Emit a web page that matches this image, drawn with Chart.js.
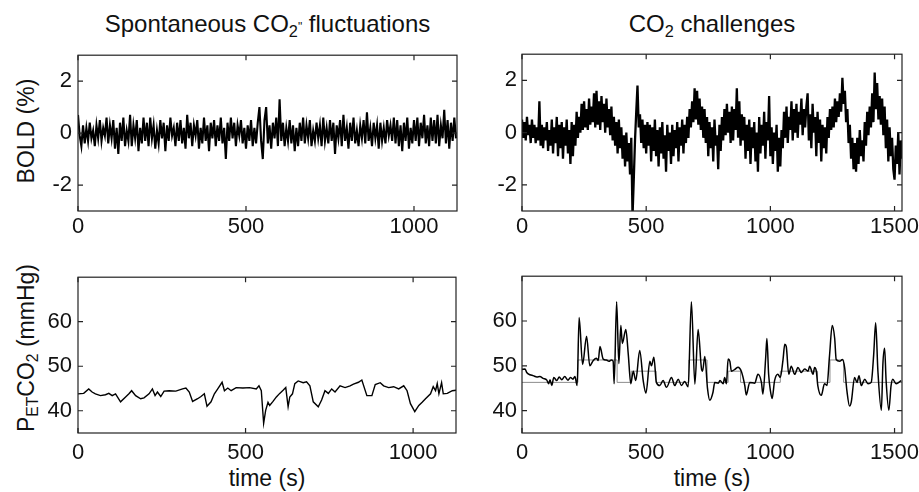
<!DOCTYPE html>
<html>
<head>
<meta charset="utf-8">
<script src="https://cdn.jsdelivr.net/npm/chart.js@4/dist/chart.umd.min.js"></script>
<style>
  html, body { margin: 0; padding: 0; background: #fff; }
  body { position: relative; width: 919px; height: 492px; overflow: hidden; font-family: "Liberation Sans", Arial, Helvetica, sans-serif; color: #111; }
  canvas { position: absolute; }
  .txt { position: absolute; font-size: 24px; line-height: 24px; white-space: nowrap; text-align: center; }
  .txt sub { font-size: 0.68em; vertical-align: -0.28em; line-height: 0; }
  .mark { font-size: 0.5em; vertical-align: 0.1em; }
  .ylab { font-size: 23px; transform: rotate(-90deg); transform-origin: center center; }
</style>
</head>
<body>
<div class="txt" style="left:78px; width:379px; top:12px">Spontaneous CO<sub>2</sub><span class="mark">"</span> fluctuations</div>
<div class="txt" style="left:522px; width:380px; top:12px">CO<sub>2</sub> challenges</div>
<div class="txt ylab" style="left:-74px; width:200px; top:119px">BOLD (%)</div>
<div class="txt ylab" style="left:-74px; width:200px; top:336px">P<sub>ET</sub>CO<sub>2</sub> (mmHg)</div>
<div class="txt" style="left:78px; width:378px; top:466px; font-size:23px">time (s)</div>
<div class="txt" style="left:522px; width:380px; top:466px; font-size:23px">time (s)</div>

<canvas id="tl" width="440" height="210" style="left:30px; top:36px"></canvas>
<canvas id="tr" width="465" height="210" style="left:475px; top:36px"></canvas>
<canvas id="bl" width="440" height="210" style="left:30px; top:258px"></canvas>
<canvas id="br" width="465" height="210" style="left:475px; top:258px"></canvas>

<script>
// tick labels
const boldTicks = [-2, 0, 2]
const co2Ticks = [40, 50, 60]
const timeTicksSpont = [0, 500, 1000]
const timeTicksChall = [0, 500, 1000, 1500]

// BOLD (%) sampled every 5 s, spontaneous run
const boldSpontStep = 5
const boldSpont = [
  0.7, -0.1, -0.5, 0.3, -0.4, 0.2, -0.3, 0.4, -0.2, 0.1,
  -0.5, 0.3, -0.2, 0.5, -0.3, 0.2, -0.1, 0.6, -0.4, 0.3,
  -0.2, 0.5, -0.6, 0.2, -0.8, 0.4, -0.3, 0.6, -0.5, 0.1,
  -0.3, 0.7, -0.5, 0.3, -0.2, 0.5, -0.7, 0.2, -0.4, 0.6,
  -0.3, 0.4, -0.5, 0.6, -0.2, 0.3, -0.6, 0.1, -0.4, 0.5,
  -0.2, 0.4, -0.7, 0.3, -0.3, 0.6, -0.1, 0.2, -0.5, 0.4,
  -0.3, 0.5, -0.4, 0.2, -0.6, 0.7, -0.2, 0.4, -0.5, 0.3,
  -0.1, 0.5, -0.6, 0.2, -0.4, 0.6, -0.3, 0.3, -0.7, 0.4,
  -0.2, 0.5, -0.5, 0.3, -0.3, 0.6, -0.4, 0.2, -1.0, 0.4,
  -0.3, 0.6, -0.2, 0.4, -0.5, 0.3, -0.1, 0.5, -0.4, 0.2,
  -0.6, 0.3, -0.3, 0.5, -0.5, 0.2, -0.4, 0.4, 1.0, -0.3,
  -1.0, 0.5, 1.0, -0.4, 0.3, -0.6, 0.4, -0.2, 0.6, -0.5,
  1.3, -0.3, 0.4, -0.5, 0.2, -0.3, 0.5, -0.4, 0.3, -0.7,
  0.2, -0.5, 0.4, -0.3, 0.6, -0.4, 0.3, -0.2, 0.5, -0.5,
  0.1, -0.3, 0.4, -0.2, 0.3, -0.5, 0.6, -0.3, 0.2, -0.4,
  0.5, -0.3, 0.4, -0.8, 0.3, -0.2, 0.5, -0.5, 0.7, -0.3,
  0.2, -0.6, 0.4, -0.3, 0.6, -0.4, 0.1, -0.5, 0.3, -0.2,
  0.5, -0.4, 0.8, -0.3, 0.2, -0.5, 0.4, -0.2, 0.3, -0.6,
  0.4, -0.3, 0.2, -0.4, 0.5, -0.1, 0.3, -0.3, 0.6, -0.4,
  0.5, -0.5, 0.3, -0.7, 0.4, -0.3, 0.6, -0.6, 0.2, -0.4,
  0.5, -0.3, 0.6, -0.5, 0.4, -0.2, 0.7, -0.4, 0.3, -0.5,
  0.6, -0.3, 0.5, -0.4, 0.7, -0.5, 0.3, -0.2, 0.9, -0.4,
  0.5, -0.6, 0.4, -0.3, 0.6, -0.2
]

// BOLD (%) sampled every 5 s, CO2 challenge run
const boldChallStep = 5
const boldChall = [
  0.5, -0.2, 0.4, -0.3, 0.6, -0.1, 0.3, -0.4, 0.5, -0.2,
  0.3, -0.4, 0.2, -0.3, 1.2, -0.5, 0.3, -0.6, 0.2, -0.3,
  0.4, -0.7, 0.1, -0.5, 0.5, -0.8, 0.2, -0.4, 0.6, -0.9,
  0.3, -0.6, 0.4, -1.0, 0.2, -0.5, 0.5, -0.8, 0.1, -1.2,
  0.4, -0.9, 0.3, -0.5, 0.8, -0.2, 0.6, 0.0, 1.1, 0.1,
  1.2, 0.2, 0.9, 0.1, 1.3, 0.3, 1.0, 0.4, 1.5, 0.2,
  1.6, 0.3, 1.2, 0.1, 1.4, 0.4, 1.1, 0.0, 1.3, 0.2,
  0.9, -0.1, 1.0, -0.3, 0.6, -0.5, 0.4, -0.8, 0.5, -0.6,
  0.2, -1.0, -0.1, -1.3, 0.0, -1.1, -0.4, -1.6, -0.2, -3.2,
  -1.8, -0.3, 0.8, 1.8, 0.2, 0.7, -0.4, 0.5, -0.6, 0.3,
  -0.8, 0.4, -0.5, 0.3, -1.1, 0.2, -0.7, 0.5, -0.9, 0.1,
  -1.3, 0.2, -0.8, 0.4, -1.0, -0.1, -1.5, 0.3, -0.7, 0.0,
  -1.2, 0.3, -0.9, 0.1, -0.6, 0.4, -1.1, 0.2, -0.5, 0.5,
  -0.8, 0.3, -0.4, 0.6, -0.2, 0.9, 0.2, 1.2, 0.4, 1.7,
  0.5, 1.6, 0.3, 1.3, 0.1, 1.0, -0.2, 0.9, -0.4, 0.6,
  -0.9, 0.4, -0.6, 0.2, -1.1, 0.5, -0.5, -0.1, -1.4, 0.3,
  -0.7, 0.6, -0.3, 0.9, -0.1, 1.1, 0.0, 0.8, -0.4, 1.0,
  -0.3, 0.9, 0.1, 1.7, -0.2, 1.2, -0.5, 0.7, -0.3, 0.6,
  -1.0, 0.3, -0.7, 0.5, -1.2, 0.2, -0.6, 0.4, -1.1, 0.0,
  -1.5, 0.6, -0.8, 0.3, -0.5, 0.8, -1.0, 0.4, -0.3, 1.4,
  -0.9, 0.2, -1.2, 0.0, -0.7, 0.3, -1.5, -0.2, -1.3, 0.1,
  -0.6, 0.8, -0.2, 1.0, -0.4, 0.6, 0.1, 1.2, -0.3, 0.9,
  0.0, 1.1, -0.2, 0.8, 0.3, 1.3, -0.1, 0.9, 0.2, 1.0,
  1.5, -0.3, 0.7, -0.6, 1.1, 0.0, 0.6, -0.9, 0.8, -0.4,
  0.5, -1.1, 0.3, -0.6, 0.2, -0.8, 0.6, -0.2, 0.9, 0.1,
  1.0, 0.2, 1.3, 0.4, 1.2, 0.6, 1.5, 0.8, 2.1, 1.1,
  1.6, 0.4, 0.9, -0.4, 0.3, -1.0, -0.2, -1.4, -0.4, -1.5,
  -0.2, -1.2, 0.1, -0.9, -0.3, -1.1, 0.4, -0.5, 0.8, -0.1,
  1.0, 0.2, 1.5, 0.4, 2.3, 0.9, 1.9, 0.5, 1.4, 0.3,
  1.3, -0.1, 1.0, -0.6, 0.5, -1.1, 0.2, -0.9, -0.2, -1.4,
  -1.8, -0.5, -1.2, 0.0, -1.6, -0.3, -1.0
]

// PETCO2 (mmHg), spontaneous run
const petSpontTime = [
  0, 17, 32, 42, 52, 67, 82, 92, 102, 112, 127, 142, 152, 160, 172, 187, 197, 212, 222, 230,
  237, 247, 257, 272, 292, 312, 322, 332, 342, 357, 367, 377, 385, 397, 407, 417, 430, 437, 447, 457,
  472, 492, 512, 532, 540, 547, 554, 560, 567, 572, 582, 592, 602, 612, 620, 627, 632, 640, 647, 657,
  672, 682, 692, 702, 717, 727, 737, 747, 757, 767, 782, 797, 812, 822, 837, 847, 862, 877, 887, 902,
  912, 927, 942, 957, 972, 982, 992, 1005, 1017, 1027, 1037, 1052, 1060, 1067, 1072, 1077, 1085, 1090, 1102, 1117,
  1128
]
const petSpontValue = [
  43.8, 43.9, 44.9, 44.2, 43.8, 43.4, 43.6, 43.9, 43.4, 43.8, 42.0, 43.1, 43.8, 44.5, 43.4, 42.7, 42.9, 43.8, 44.9, 43.4,
  44.2, 43.2, 44.4, 44.5, 44.4, 44.9, 45.1, 44.2, 42.1, 42.7, 43.2, 43.8, 41.0, 42.0, 43.8, 44.9, 46.4, 44.5, 45.1, 44.5,
  45.2, 45.1, 45.2, 44.9, 45.6, 44.5, 37.2, 40.1, 41.9, 41.2, 42.1, 43.1, 43.9, 44.6, 45.2, 40.9, 43.1, 43.8, 46.1, 46.7,
  46.3, 46.5, 45.6, 42.0, 40.9, 42.4, 44.5, 43.9, 44.9, 44.2, 45.6, 45.2, 45.6, 46.0, 46.4, 46.9, 43.4, 43.4, 45.9, 46.3,
  45.6, 45.2, 45.4, 44.9, 45.6, 44.5, 41.6, 39.8, 41.2, 41.9, 42.7, 43.8, 45.4, 44.5, 46.1, 43.8, 46.3, 43.8, 43.9, 44.5,
  44.6
]

// PETCO2 (mmHg), CO2 challenge run
const petChallTime = [
  0, 12, 19, 32, 45, 60, 72, 85, 100, 107, 113, 120, 128, 140, 150, 160, 172, 185, 195, 205,
  213, 222, 230, 244, 260, 273, 287, 300, 307, 314, 327, 340, 350, 360, 367, 371, 381, 390, 398, 404,
  418, 428, 438, 448, 458, 474, 488, 499, 515, 521, 531, 541, 555, 568, 582, 602, 615, 629, 642, 655,
  669, 682, 696, 709, 723, 727, 736, 747, 756, 769, 776, 790, 797, 810, 816, 823, 830, 837, 843, 857,
  870, 883, 897, 903, 917, 937, 950, 964, 970, 981, 986, 993, 1000, 1007, 1017, 1030, 1040, 1051, 1058, 1064,
  1074, 1084, 1098, 1111, 1125, 1138, 1152, 1158, 1172, 1178, 1185, 1191, 1205, 1218, 1228, 1238, 1249, 1259, 1265, 1279,
  1290, 1299, 1308, 1319, 1326, 1339, 1349, 1357, 1366, 1380, 1393, 1406, 1416, 1424, 1433, 1447, 1453, 1460, 1466, 1477,
  1486, 1493, 1506, 1517, 1527
]
const petChallValue = [
  49.2, 49.3, 48.5, 48.0, 47.8, 47.5, 47.6, 47.2, 46.8, 46.0, 46.9, 45.6, 47.4, 46.7, 47.5, 46.9, 47.6, 46.8, 47.4, 47.0,
  47.6, 45.6, 60.8, 50.3, 56.6, 50.0, 51.2, 51.7, 51.2, 54.3, 51.5, 51.3, 51.0, 51.3, 51.0, 46.0, 64.3, 50.5, 59.0, 55.0,
  58.1, 52.5, 46.0, 48.8, 46.7, 53.4, 46.7, 43.9, 51.0, 50.0, 51.9, 46.3, 45.6, 46.7, 45.2, 47.4, 45.6, 47.0, 45.6, 46.5,
  45.3, 64.3, 45.9, 58.1, 49.2, 48.8, 52.1, 44.9, 42.3, 44.1, 46.3, 46.1, 46.7, 46.0, 47.4, 46.0, 51.5, 51.0, 48.8, 49.2,
  49.7, 48.8, 45.6, 43.5, 46.3, 46.1, 48.1, 46.3, 43.7, 51.7, 56.1, 48.1, 44.5, 42.7, 46.7, 48.1, 47.4, 51.4, 54.8, 54.3,
  48.1, 49.9, 48.1, 49.6, 48.5, 49.3, 48.8, 49.9, 48.1, 49.6, 48.8, 45.6, 43.4, 46.0, 45.6, 52.1, 59.0, 56.1, 51.4, 51.0,
  51.4, 49.6, 44.5, 41.0, 42.0, 47.4, 46.3, 47.8, 45.6, 47.0, 46.0, 46.3, 52.5, 59.6, 48.8, 40.1, 50.3, 53.9, 46.7, 40.1,
  45.6, 47.0, 46.0, 46.3, 46.7
]

// target PETCO2 steps (thin grey line)
const targetTime = [0, 225, 383, 440, 540, 672, 745, 830, 880, 1040, 1190, 1240, 1295, 1530]
const targetLevel = [46.3, 51.3, 46.3, 48.8, 46.3, 51.3, 46.3, 48.8, 46.3, 48.8, 46.3, 51.3, 46.3, 46.3]

const FONT = { family: '"Liberation Sans", Arial, Helvetica, sans-serif', size: 22 }

// box round the plot with inward ticks on all four sides (matlab look)
const framePlugin = {
  id: 'frame',
  afterDatasetsDraw(chart) {
    const { ctx, chartArea: a, scales: { x, y } } = chart
    const len = 5
    ctx.save()
    ctx.strokeStyle = '#222'
    ctx.lineWidth = 1.2
    ctx.strokeRect(a.left, a.top, a.right - a.left, a.bottom - a.top)
    ctx.beginPath()
    x.ticks.forEach(t => {
      const px = x.getPixelForValue(t.value)
      ctx.moveTo(px, a.bottom); ctx.lineTo(px, a.bottom - len)
      ctx.moveTo(px, a.top); ctx.lineTo(px, a.top + len)
    })
    y.ticks.forEach(t => {
      const py = y.getPixelForValue(t.value)
      ctx.moveTo(a.left, py); ctx.lineTo(a.left + len, py)
      ctx.moveTo(a.right, py); ctx.lineTo(a.right - len, py)
    })
    ctx.stroke()
    ctx.restore()
  }
}

function makeChart(id, datasets, opt) {
  return new Chart(document.getElementById(id), {
    type: 'line',
    data: { datasets },
    plugins: [framePlugin],
    options: {
      responsive: false,
      animation: false,
      devicePixelRatio: 1,
      parsing: false,
      normalized: true,
      layout: { padding: { top: opt.padTop, right: opt.padRight, left: 0, bottom: 0 } },
      plugins: { legend: { display: false }, tooltip: { enabled: false } },
      elements: { point: { radius: 0 } },
      scales: {
        x: {
          type: 'linear', min: 0, max: opt.xMax,
          grid: { display: false, drawTicks: false }, border: { display: false },
          afterBuildTicks: s => { s.ticks = opt.xTicks.map(v => ({ value: v })) },
          afterFit: s => { s.height = opt.xHeight },
          ticks: { color: '#111', font: FONT, padding: opt.xPad, maxRotation: 0, callback: v => String(v) }
        },
        y: {
          min: opt.yMin, max: opt.yMax,
          grid: { display: false, drawTicks: false }, border: { display: false },
          afterBuildTicks: s => { s.ticks = opt.yTicks.map(v => ({ value: v })) },
          afterFit: s => { s.width = opt.yWidth },
          ticks: { color: '#111', font: FONT, padding: opt.yPad, callback: v => String(v) }
        }
      }
    }
  })
}

const toPoints = (vals, step) => vals.map((v, i) => ({ x: i * step, y: v }))
const zip = (ts, vs) => ts.map((t, i) => ({ x: t, y: vs[i] }))

const left = { padTop: 15, padRight: 13, yWidth: 48, xHeight: 35, xMax: 1128, xTicks: timeTicksSpont, yPad: 6 }
const right = { padTop: 15, padRight: 38, yWidth: 47, xHeight: 35, xMax: 1530, xTicks: timeTicksChall, yPad: 5 }

makeChart('tl', [
  { data: toPoints(boldSpont, boldSpontStep), borderColor: '#000', borderWidth: 2.1, tension: 0 }
], { ...left, xPad: 3, yMin: -3, yMax: 3, yTicks: boldTicks })

makeChart('tr', [
  { data: toPoints(boldChall, boldChallStep), borderColor: '#000', borderWidth: 2.3, tension: 0 }
], { ...right, xPad: 3, yMin: -3, yMax: 3, yTicks: boldTicks })

makeChart('bl', [
  { data: zip(petSpontTime, petSpontValue), borderColor: '#000', borderWidth: 1.4, tension: 0 }
], { ...left, xPad: 7, padRight: 14, yMin: 35, yMax: 70, yTicks: co2Ticks })

makeChart('br', [
  { data: zip(targetTime, targetLevel), borderColor: '#8c8c8c', borderWidth: 1, stepped: 'before', order: 2 },
  { data: zip(petChallTime, petChallValue), borderColor: '#000', borderWidth: 1.5, cubicInterpolationMode: 'monotone', order: 1 }
], { ...right, xPad: 7, yMin: 35, yMax: 70, yTicks: co2Ticks })
</script>
</body>
</html>
